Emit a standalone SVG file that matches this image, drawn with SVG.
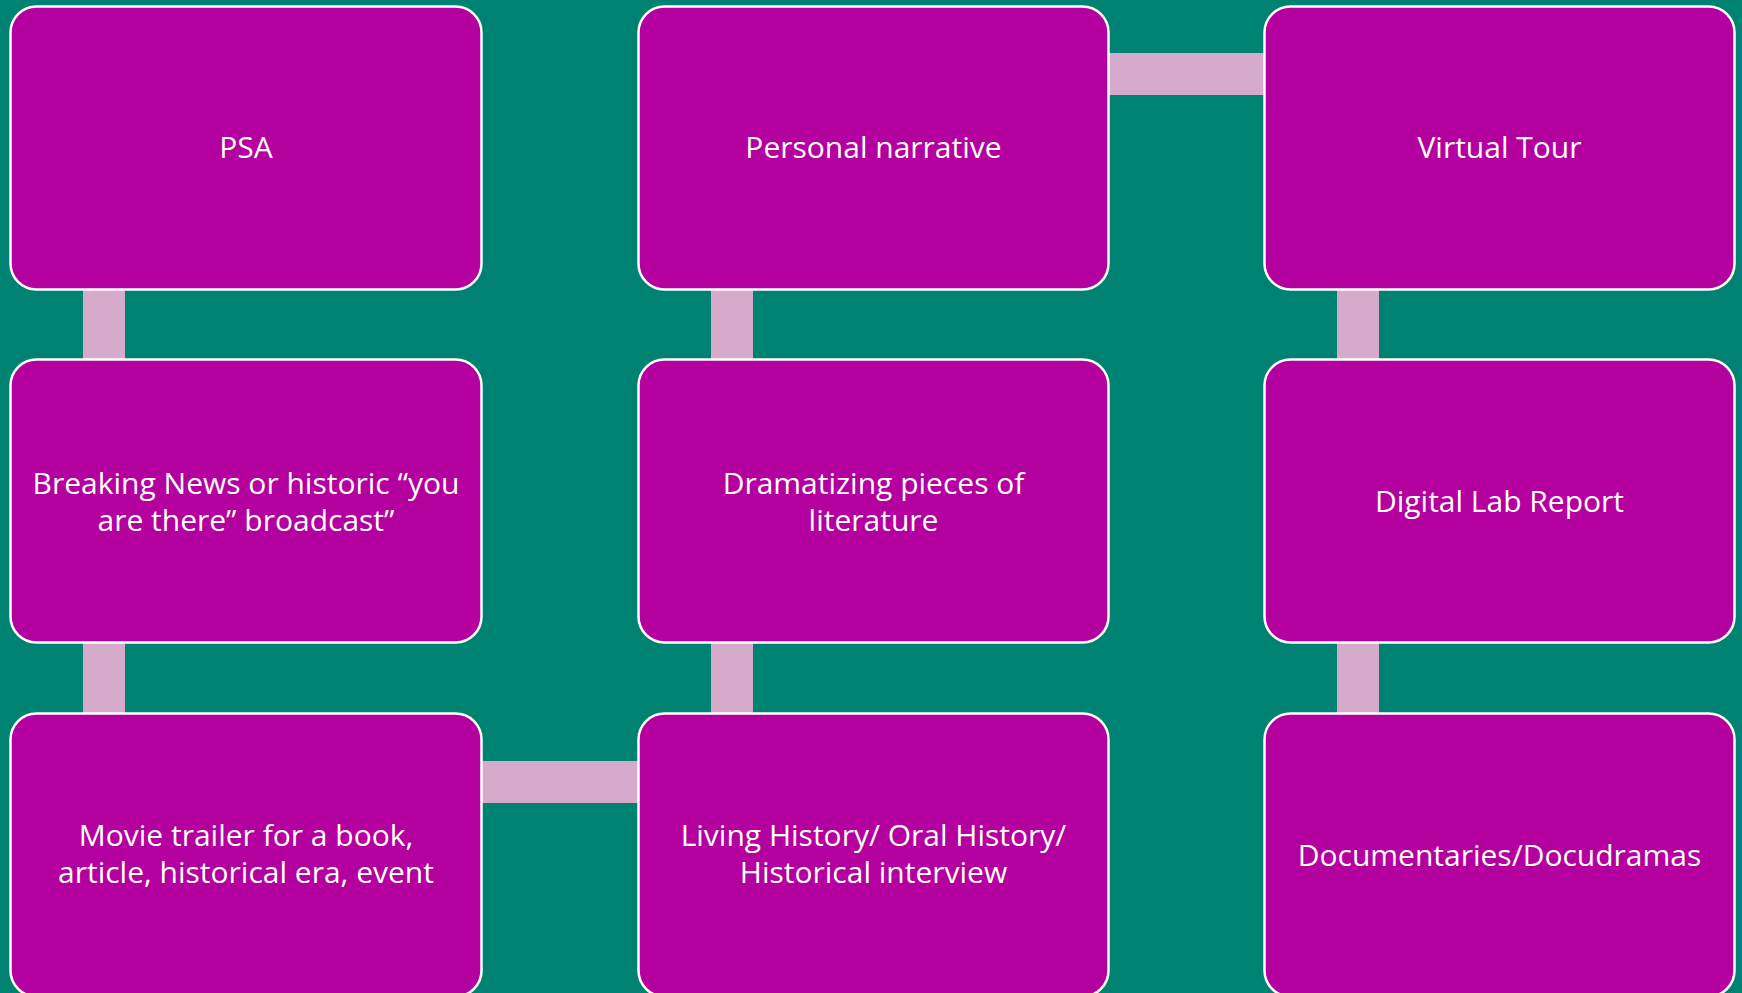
<svg xmlns="http://www.w3.org/2000/svg" width="1742" height="993" viewBox="0 0 1742 993">
<defs>
<style>
.node rect{fill:#B4009E;stroke:#FFFFFF;stroke-width:2.5}
.node text{fill:#FFFFFF;font-family:"Open Sans","Noto Sans","Liberation Sans",sans-serif;font-size:30px;text-anchor:middle}
.conn rect{fill:#D6AACB}
</style>
</defs>
<rect x="0" y="0" width="1742" height="993" fill="#008272"/>
<g id="connectors" class="conn">
<rect x="83" y="289" width="42" height="72"/>
<rect x="83" y="642" width="42" height="74"/>
<rect x="482" y="761" width="158" height="42"/>
<rect x="711" y="642" width="42" height="74"/>
<rect x="711" y="289" width="42" height="72"/>
<rect x="1108" y="53" width="157" height="42"/>
<rect x="1337" y="289" width="42" height="72"/>
<rect x="1337" y="642" width="42" height="74"/>
</g>
<g id="node-psa" class="node">
<rect x="10.5" y="6.5" width="471" height="283" rx="26"/>
<text x="246" y="158">PSA</text>
</g>
<g id="node-breaking" class="node">
<rect x="10.5" y="359.5" width="471" height="283" rx="26"/>
<text x="246" y="494">Breaking News or historic “you</text>
<text x="246" y="531">are there” broadcast”</text>
</g>
<g id="node-movie" class="node">
<rect x="10.5" y="713.5" width="471" height="283" rx="26"/>
<text x="246" y="846">Movie trailer for a book,</text>
<text x="246" y="883">article, historical era, event</text>
</g>
<g id="node-living" class="node">
<rect x="638.5" y="713.5" width="470" height="283" rx="26"/>
<text x="873.5" y="846">Living History/ Oral History/</text>
<text x="873.5" y="883">Historical interview</text>
</g>
<g id="node-dramatizing" class="node">
<rect x="638.5" y="359.5" width="470" height="283" rx="26"/>
<text x="873.5" y="494">Dramatizing pieces of</text>
<text x="873.5" y="531">literature</text>
</g>
<g id="node-personal" class="node">
<rect x="638.5" y="6.5" width="470" height="283" rx="26"/>
<text x="873.5" y="158">Personal narrative</text>
</g>
<g id="node-virtual" class="node">
<rect x="1264.5" y="6.5" width="470" height="283" rx="26"/>
<text x="1499.5" y="158">Virtual Tour</text>
</g>
<g id="node-digital" class="node">
<rect x="1264.5" y="359.5" width="470" height="283" rx="26"/>
<text x="1499.5" y="512">Digital Lab Report</text>
</g>
<g id="node-documentaries" class="node">
<rect x="1264.5" y="713.5" width="470" height="283" rx="26"/>
<text x="1499.5" y="866">Documentaries/Docudramas</text>
</g>
</svg>
